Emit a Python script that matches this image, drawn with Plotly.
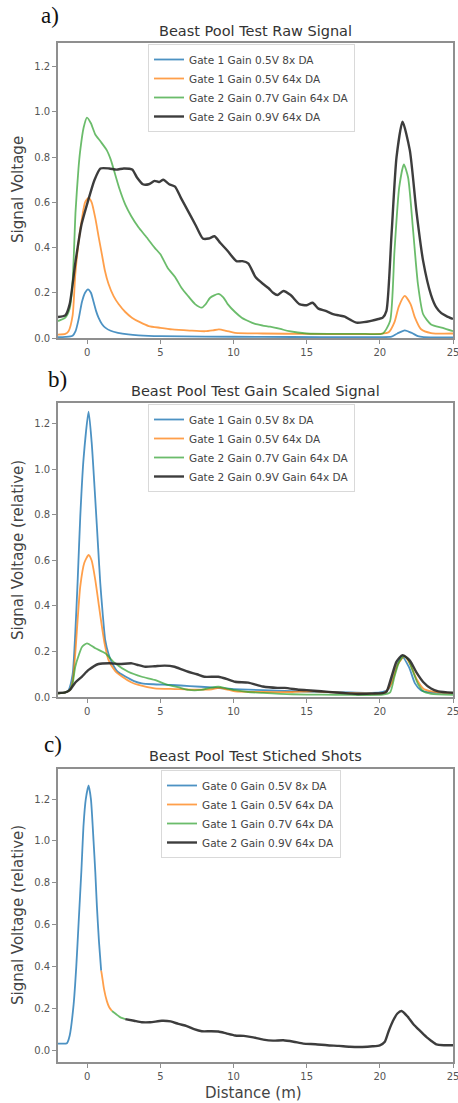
import plotly.graph_objects as go

# ---------------- data ----------------
X_TICKS = [0, 5, 10, 15, 20, 25]
Y_TICKS = [0.0, 0.2, 0.4, 0.6, 0.8, 1.0, 1.2]
Y_TICK_TEXT = ["0.0", "0.2", "0.4", "0.6", "0.8", "1.0", "1.2"]

NAMES_A = ["Gate 1 Gain 0.5V 8x DA", "Gate 1 Gain 0.5V 64x DA",
           "Gate 2 Gain 0.7V Gain 64x DA", "Gate 2 Gain 0.9V 64x DA"]
NAMES_B = ["Gate 1 Gain 0.5V 8x DA", "Gate 1 Gain 0.5V 64x DA",
           "Gate 2 Gain 0.7V Gain 64x DA", "Gate 2 Gain 0.9V Gain 64x DA"]
NAMES_C = ["Gate 0 Gain 0.5V 8x DA", "Gate 1 Gain 0.5V 64x DA",
           "Gate 1 Gain 0.7V 64x DA", "Gate 2 Gain 0.9V 64x DA"]

# panel a: raw signal
XA_BLUE = [-2, -1.5, -1.0, -0.8, -0.6, -0.36, -0.15, 0.05, 0.25, 0.43, 0.6, 0.77, 1.0, 1.23, 1.6, 2.1,
           2.8, 3.5, 5, 8, 12, 16, 20, 20.8, 21.2, 21.7, 22.2, 22.6, 23, 25]
YA_BLUE = [0.004, 0.005, 0.01, 0.03, 0.08, 0.16, 0.2, 0.215, 0.2, 0.16, 0.12, 0.09, 0.062, 0.046, 0.032,
           0.023, 0.016, 0.012, 0.008, 0.006, 0.005, 0.004, 0.004, 0.006, 0.02, 0.034, 0.022, 0.008, 0.004, 0.003]

XA_ORANGE = [-2, -1.5, -1.28, -1.0, -0.82, -0.6, -0.36, -0.15, 0.09, 0.3, 0.55, 0.8, 1.0, 1.2, 1.45, 1.8,
             2.14, 2.6, 3.05, 3.6, 4.2, 5.0, 5.8, 7, 8.06, 8.6, 9.0, 9.5, 10.1, 12, 15, 18, 20, 20.6, 21.0,
             21.3, 21.7, 22.1, 22.4, 22.8, 23.5, 25]
YA_ORANGE = [0.015, 0.018, 0.03, 0.1, 0.28, 0.42, 0.53, 0.6, 0.62, 0.6, 0.53, 0.44, 0.37, 0.3, 0.24, 0.185,
             0.15, 0.115, 0.09, 0.07, 0.053, 0.045, 0.038, 0.033, 0.03, 0.034, 0.038, 0.032, 0.023, 0.02,
             0.018, 0.017, 0.018, 0.025, 0.07, 0.14, 0.186, 0.15, 0.09, 0.04, 0.022, 0.02]

XA_GREEN = [-2, -1.5, -1.2, -1.0, -0.8, -0.6, -0.48, -0.25, -0.02, 0.25, 0.55, 0.9, 1.34, 1.6, 1.9, 2.2,
            2.6, 3.0, 3.5, 4.0, 4.6, 5.0, 5.5, 6.0, 6.46, 6.9, 7.37, 7.83, 8.1, 8.4, 8.96, 9.3, 9.6, 10.1,
            10.56, 11.0, 11.47, 12.0, 12.5, 13.2, 13.8, 15, 17, 19, 20.2, 20.7, 21.0, 21.32, 21.64, 21.93,
            22.28, 22.6, 22.96, 23.5, 24.3, 25]
YA_GREEN = [0.075, 0.09, 0.13, 0.25, 0.56, 0.75, 0.83, 0.93, 0.975, 0.95, 0.9, 0.87, 0.83, 0.79, 0.725,
            0.66, 0.59, 0.54, 0.49, 0.45, 0.40, 0.37, 0.31, 0.27, 0.22, 0.185, 0.15, 0.134, 0.15, 0.178,
            0.195, 0.18, 0.15, 0.115, 0.09, 0.075, 0.062, 0.055, 0.05, 0.04, 0.03, 0.02, 0.018, 0.018, 0.02,
            0.075, 0.385, 0.665, 0.768, 0.71, 0.47, 0.24, 0.105, 0.06, 0.045, 0.03]

XA_BLACK = [-2, -1.5, -1.2, -0.8, -0.4, 0.07, 0.5, 0.9, 1.5, 2.0, 2.5, 3.07, 3.4, 3.8, 4.2, 4.6, 4.9, 5.2,
            5.6, 6.0, 6.4, 6.9, 7.4, 7.9, 8.3, 8.7, 9.1, 9.6, 10.2, 10.6, 11.0, 11.5, 12.0, 12.4, 12.7, 13.0,
            13.4, 13.9, 14.5, 15.0, 15.4, 15.8, 16.3, 16.8, 17.2, 17.6, 18.0, 18.4, 18.9, 19.4, 19.9, 20.2,
            20.45, 20.8, 21.14, 21.55, 22.05, 22.5, 22.96, 23.5, 23.87, 24.2, 24.55, 25]
YA_BLACK = [0.093, 0.1, 0.15, 0.34, 0.5, 0.61, 0.70, 0.75, 0.75, 0.745, 0.75, 0.745, 0.71, 0.68, 0.68,
            0.695, 0.69, 0.70, 0.68, 0.67, 0.62, 0.56, 0.50, 0.44, 0.44, 0.45, 0.42, 0.385, 0.34, 0.34, 0.33,
            0.27, 0.24, 0.22, 0.2, 0.19, 0.208, 0.19, 0.15, 0.145, 0.156, 0.13, 0.12, 0.106, 0.10, 0.095,
            0.08, 0.068, 0.07, 0.076, 0.084, 0.09, 0.12, 0.46, 0.80, 0.957, 0.83, 0.56, 0.34, 0.19, 0.134,
            0.11, 0.097, 0.084]

# panel b: gain scaled signal
XB_BLUE = [-2, -1.5, -1.28, -1.0, -0.82, -0.65, -0.48, -0.25, 0.09, 0.3, 0.55, 0.75, 0.89, 1.05, 1.23,
           1.45, 1.69, 2.1, 2.6, 3.2, 3.73, 4.5, 5.78, 7, 8.5, 10, 12, 14, 16, 18, 20, 20.6, 21.0, 21.5,
           22.0, 22.4, 22.8, 23.5, 25]
YB_BLUE = [0.015, 0.02, 0.03, 0.1, 0.28, 0.52, 0.79, 1.05, 1.254, 1.12, 0.866, 0.65, 0.5, 0.37, 0.25,
           0.19, 0.15, 0.11, 0.09, 0.07, 0.06, 0.056, 0.053, 0.048, 0.042, 0.035, 0.03, 0.026, 0.022, 0.02,
           0.02, 0.035, 0.11, 0.18, 0.13, 0.06, 0.03, 0.02, 0.018]

XB_ORANGE = [-2, -1.5, -1.2, -1.0, -0.82, -0.48, -0.2, 0.09, 0.3, 0.55, 0.8, 1.0, 1.2, 1.45, 1.9, 2.37,
             3.0, 3.5, 4.6, 6, 7.5, 8.5, 9.0, 9.5, 10.1, 12, 14, 15.5, 17, 19, 20.3, 20.8, 21.2, 21.7, 22.1,
             22.5, 23, 24, 25]
YB_ORANGE = [0.015, 0.02, 0.03, 0.07, 0.19, 0.485, 0.59, 0.624, 0.6, 0.514, 0.4, 0.31, 0.23, 0.163,
             0.115, 0.09, 0.065, 0.053, 0.038, 0.035, 0.032, 0.034, 0.04, 0.034, 0.025, 0.022, 0.022,
             0.025, 0.02, 0.016, 0.018, 0.06, 0.14, 0.18, 0.14, 0.08, 0.035, 0.02, 0.018]

XB_GREEN = [-2, -1.5, -1.2, -1.0, -0.82, -0.6, -0.36, -0.02, 0.55, 1.23, 1.9, 2.8, 3.73, 4.6, 5.5, 6.2,
            6.9, 7.8, 8.4, 8.96, 9.5, 10.1, 11, 12, 14, 16, 18, 20.2, 20.7, 21.0, 21.32, 21.64, 21.93,
            22.28, 22.6, 22.96, 23.5, 25]
YB_GREEN = [0.015, 0.02, 0.03, 0.06, 0.133, 0.18, 0.22, 0.236, 0.214, 0.192, 0.148, 0.111, 0.089,
            0.075, 0.053, 0.043, 0.031, 0.031, 0.04, 0.045, 0.038, 0.03, 0.022, 0.018, 0.012, 0.01, 0.009,
            0.01, 0.02, 0.09, 0.155, 0.18, 0.165, 0.11, 0.058, 0.025, 0.014, 0.009]

XB_BLACK = [-2, -1.5, -1.2, -0.8, -0.36, 0.09, 0.77, 1.5, 2.2, 3.05, 3.5, 3.96, 4.6, 5.3, 5.96, 6.5,
            6.9, 7.5, 8.0, 8.96, 9.5, 10.1, 11.0, 12.0, 13.0, 13.5, 14.5, 15.0, 16.0, 17.0, 18.0, 18.5,
            19.5, 20.2, 20.45, 20.8, 21.14, 21.55, 22.05, 22.5, 22.96, 23.5, 24, 25]
YB_BLACK = [0.018, 0.02, 0.03, 0.065, 0.09, 0.119, 0.145, 0.148, 0.145, 0.148, 0.14, 0.133, 0.135,
            0.138, 0.133, 0.12, 0.111, 0.1, 0.089, 0.089, 0.08, 0.067, 0.063, 0.046, 0.04, 0.04, 0.032,
            0.03, 0.025, 0.02, 0.015, 0.013, 0.015, 0.017, 0.023, 0.09, 0.155, 0.184, 0.16, 0.108, 0.066,
            0.037, 0.025, 0.019]

# panel c: stitched shots (one segment per gate)
XC_BLUE = [-2, -1.7, -1.39, -1.2, -0.93, -0.75, -0.59, -0.4, -0.25, -0.1, 0.09, 0.25, 0.43, 0.55, 0.66,
           0.8, 0.95]
YC_BLUE = [0.031, 0.031, 0.033, 0.07, 0.22, 0.4, 0.61, 0.86, 1.08, 1.2, 1.265, 1.2, 1.0, 0.85, 0.687,
           0.52, 0.38]
XC_ORANGE = [0.95, 1.0, 1.15, 1.34, 1.5, 1.69]
YC_ORANGE = [0.38, 0.36, 0.29, 0.234, 0.205, 0.187]
XC_GREEN = [1.69, 2.0, 2.3, 2.6]
YC_GREEN = [0.187, 0.17, 0.155, 0.148]
XC_BLACK = [2.6, 3.2, 3.73, 4.3, 5.1, 5.7, 6.23, 6.8, 7.3, 7.83, 8.4, 8.96, 9.5, 10.1, 10.7, 11.24,
            12.03, 12.7, 13.4, 14.1, 14.76, 15.6, 16.4, 17.2, 17.95, 18.8, 19.5, 20.0, 20.34, 20.6, 20.9,
            21.2, 21.48, 21.9, 22.28, 22.7, 23.19, 23.5, 23.87, 24.4, 25]
YC_BLACK = [0.148, 0.14, 0.133, 0.133, 0.14, 0.137, 0.125, 0.115, 0.1, 0.09, 0.09, 0.089, 0.08, 0.07,
            0.068, 0.062, 0.05, 0.045, 0.047, 0.04, 0.031, 0.028, 0.023, 0.02, 0.016, 0.015, 0.018, 0.023,
            0.04, 0.09, 0.14, 0.175, 0.187, 0.16, 0.125, 0.095, 0.062, 0.045, 0.027, 0.023, 0.023]

# ---------------- styling ----------------
W, H = 458, 1103
COLORS = ["rgba(31,119,180,0.8)", "rgba(255,127,14,0.75)", "rgba(44,160,44,0.7)", "rgba(40,40,40,0.9)"]
WIDTHS = [1.8, 1.8, 1.8, 2.4]
FONT = "DejaVu Sans, Open Sans, sans-serif"


def px_x(p):
    return p / W


def px_y(p):
    return 1 - p / H


X_DOM = [px_x(58), px_x(453)]
PANELS = [  # (top px, bottom px, y range)
    (43, 338, [0.0, 1.305]),
    (403, 697, [0.0, 1.292]),
    (769, 1062, [-0.057, 1.344]),
]

fig = go.Figure()

series = [
    [(XA_BLUE, YA_BLUE), (XA_ORANGE, YA_ORANGE), (XA_GREEN, YA_GREEN), (XA_BLACK, YA_BLACK)],
    [(XB_BLUE, YB_BLUE), (XB_ORANGE, YB_ORANGE), (XB_GREEN, YB_GREEN), (XB_BLACK, YB_BLACK)],
    [(XC_BLUE, YC_BLUE), (XC_ORANGE, YC_ORANGE), (XC_GREEN, YC_GREEN), (XC_BLACK, YC_BLACK)],
]
names = [NAMES_A, NAMES_B, NAMES_C]
legend_ids = ["legend", "legend2", "legend3"]

for p in range(3):
    ax = "" if p == 0 else str(p + 1)
    for k in range(4):
        xs, ys = series[p][k]
        fig.add_trace(go.Scatter(
            x=xs, y=ys, mode="lines", name=names[p][k],
            line=dict(color=COLORS[k], width=WIDTHS[k], shape="spline", smoothing=0.6),
            xaxis="x" + ax, yaxis="y" + ax, legend=legend_ids[p], hoverinfo="skip",
        ))

axis_common = dict(
    showline=True, mirror=True, linecolor="#8f8f8f", linewidth=1.6,
    ticks="outside", ticklen=4, tickwidth=1, tickcolor="#8f8f8f",
    showgrid=False, zeroline=False, automargin=False,
    tickfont=dict(family=FONT, size=10, color="#555555"),
)

layout = dict(
    width=W, height=H, margin=dict(l=0, r=0, t=0, b=0, pad=0, autoexpand=False),
    paper_bgcolor="white", plot_bgcolor="white", showlegend=True,
)
for p, (top, bot, yr) in enumerate(PANELS):
    ax = "" if p == 0 else str(p + 1)
    layout["xaxis" + ax] = dict(
        domain=X_DOM, anchor="y" + ax, range=[-2, 25], tickvals=X_TICKS,
        ticklabeloverflow="allow", **axis_common)
    layout["yaxis" + ax] = dict(
        domain=[px_y(bot), px_y(top)], anchor="x" + ax, range=yr,
        tickvals=Y_TICKS, ticktext=Y_TICK_TEXT, **axis_common)

legend_pos = [(148, 44), (148, 404), (161, 770)]
for p, (lx, ly) in enumerate(legend_pos):
    layout[legend_ids[p]] = dict(
        x=px_x(lx), y=px_y(ly), xanchor="left", yanchor="top",
        bgcolor="rgba(255,255,255,0.85)", bordercolor="#d9d9d9", borderwidth=1,
        font=dict(family=FONT, size=10.5, color="#444444"),
        itemwidth=30, tracegroupgap=0,
    )

fig.update_layout(**layout)

annotations = []
titles = [("Beast Pool Test Raw Signal", 31), ("Beast Pool Test Gain Scaled Signal", 391),
          ("Beast Pool Test Stiched Shots", 756)]
for t, yc in titles:
    annotations.append(dict(text=t, x=px_x(255), y=px_y(yc), xref="paper", yref="paper",
                            showarrow=False, xanchor="center", yanchor="middle",
                            font=dict(family=FONT, size=14.5, color="#333333")))
ylabels = [("Signal Voltage", 190), ("Signal Voltage (relative)", 550), ("Signal Voltage (relative)", 915)]
for t, yc in ylabels:
    annotations.append(dict(text=t, x=px_x(18), y=px_y(yc), xref="paper", yref="paper",
                            showarrow=False, xanchor="center", yanchor="middle", textangle=-90,
                            font=dict(family=FONT, size=15, color="#444444")))
annotations.append(dict(text="Distance (m)", x=px_x(254), y=px_y(1093), xref="paper", yref="paper",
                        showarrow=False, xanchor="center", yanchor="middle",
                        font=dict(family=FONT, size=15, color="#444444")))
panel_labels = [("a)", 50, 16), ("b)", 57, 379), ("c)", 53, 744)]
for t, xc, yc in panel_labels:
    annotations.append(dict(text=t, x=px_x(xc), y=px_y(yc), xref="paper", yref="paper",
                            showarrow=False, xanchor="center", yanchor="middle",
                            font=dict(family="Liberation Serif, serif", size=23, color="#111111")))
fig.update_layout(annotations=annotations)

fig.write_html(
    "out.html",
    config={"displayModeBar": False},
    post_script="document.body.style.margin='0';document.body.style.overflow='hidden';",
)
